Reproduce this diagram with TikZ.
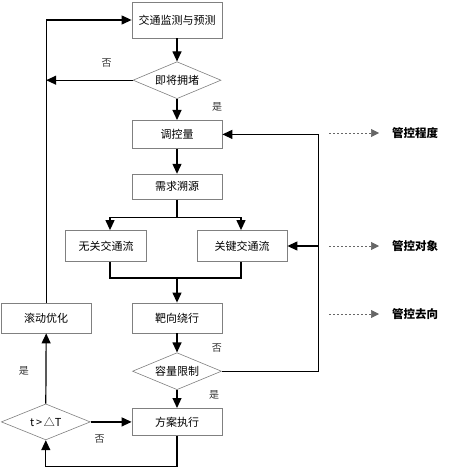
\documentclass[tikz,border=0pt]{standalone}
\usepackage{fontspec}
\setmainfont{Noto Sans CJK SC}
\usetikzlibrary{shapes.geometric,positioning,calc,arrows.meta}
\tikzset{
  procbox/.style args={#1,#2}{
  draw=black!50,
  line width=0.8pt,
  fill=white,
  inner sep=0pt,
  minimum width=#1pt,
  minimum height=#2pt,
  font=\fontsize{11}{13}\selectfont
  },
  decide/.style args={#1,#2}{
  diamond,
  aspect=2.4,
  draw=black!50,
  line width=0.6pt,
  fill=white,
  inner sep=0pt,
  minimum width=#1pt,
  minimum height=#2pt,
  font=\fontsize{11}{13}\selectfont
  },
  flow/.style={line width=1.2pt,-{Triangle[length=10pt,width=9pt]}},
  plain/.style={line width=1.2pt},
  hint/.style={draw=black!60,line width=0.7pt,dash pattern=on 2pt off 2pt,
   -{Triangle[length=8pt,width=8pt]},shorten >=13pt},
  lbl/.style={font=\fontsize{10}{12}\selectfont,text=black!80,inner sep=0pt},
  tag/.style={font=\fontsize{11.5}{13}\selectfont\bfseries,inner sep=0pt,anchor=west}
}
\begin{document}
\begin{tikzpicture}[x=1pt,y=-1pt]
  \useasboundingbox (0,0) rectangle (449,468);

  % main column
  \node [procbox={90,36}] (mon) at (177,20) {交通监测与预测};
  \node [decide={88,37},below=23pt of mon] (jam) {即将拥堵};
  \node [procbox={90,28},below=21pt of jam] (ctrl) {调控量};
  \node [procbox={90,25},below=25pt of ctrl] (src) {需求溯源};
  \node [procbox={81,31}] (irr) at (106,246) {无关交通流};
  \node [procbox={90,31}] (key) at (242,246) {关键交通流};
  \node [procbox={90,30}] (det) at (177,318) {靶向绕行};
  \node [decide={89,37},below=19pt of det] (cap) {容量限制};
  \node [procbox={90,27},below=18pt of cap] (exe) {方案执行};

  % left column
  \node [procbox={90,30},left=40pt of det] (roll) {滚动优化};
  \node [decide={89,36},left=41pt of exe] (tchk) {t\,>\,△T};

  % right hints
  \node [tag] (lv1) at (392,133) {管控程度};
  \node [tag] (lv2) at (392,246) {管控对象};
  \node [tag] (lv3) at (392,314) {管控去向};
  \coordinate (d1) at (329,133);
  \coordinate (d2) at (329,246);
  \coordinate (d3) at (329,314);
  \draw [hint] (d1) -- (lv1.west);
  \draw [hint] (d2) -- (lv2.west);
  \draw [hint] (d3) -- (lv3.west);

  \draw [flow] (mon) -- (jam);
  \draw [flow] (jam) -- (ctrl);
  \draw [flow] (ctrl) -- (src);

  \coordinate (split) at ($(src.south)+(0,18)$);
  \coordinate (merge) at ($(irr.south -| src.south)+(0,16)$);
  \coordinate (irrin) at ($(irr.north)+(4,0)$);
  \coordinate (irrout) at ($(irr.south)+(4,0)$);
  \draw [plain] (src.south) -- (split);
  \draw [flow] (split) -| (irrin);
  \draw [flow] (split) -| ($(key.north)+(-1,0)$);
  \draw [plain] (irrout) |- (merge) -| ($(key.south)+(-1,0)$);
  \draw [flow] (merge) -- (det);

  \draw [flow] (det) -- (cap);
  \draw [flow] (cap) -- (exe);

  \coordinate (rside) at ($(cap.east)+(97,0)$);
  \draw [plain] (cap.east) -- (rside);
  \draw [flow] (rside) |- (ctrl.east);
  \draw [flow] (rside |- key.east) -- (key.east);

  \coordinate (bot) at ($(exe.south)+(0,31)$);
  \draw [flow] (exe.south) -- (bot) -| (tchk.south);
  \draw [flow] (tchk.east) -- (exe.west);
  \draw [flow] (tchk.north) -- (roll.south);
  \draw [flow] (roll.north) |- (mon.west);
  \draw [flow] (jam.west) -- (roll.north |- jam.west);

  % branch labels
  \node [lbl] at ($(jam.west)+(-26,-17)$) {否};
  \node [lbl] at ($(jam.south)+(40,8)$) {是};
  \node [lbl] at ($(cap.east)+(-5,-23)$) {否};
  \node [lbl] at ($(cap.south)+(37,5)$) {是};
  \node [lbl] at ($(tchk.north)+(-22,-33)$) {是};
  \node [lbl] at ($(tchk.east)+(9,17)$) {否};
\end{tikzpicture}
\end{document}
